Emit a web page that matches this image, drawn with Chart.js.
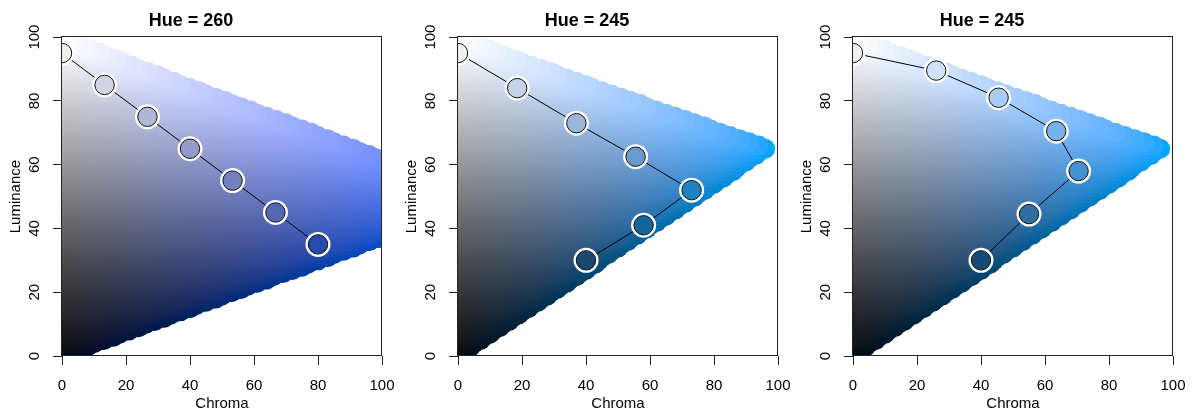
<!DOCTYPE html>
<html>
<head>
<meta charset="utf-8">
<script src="https://cdn.jsdelivr.net/npm/chart.js@4.4.0/dist/chart.umd.min.js"></script>
<style>
html, body { margin: 0; padding: 0; background: #fff; }
#wrap { position: relative; width: 1196px; height: 414px; overflow: hidden; }
canvas { position: absolute; top: 0; }
</style>
</head>
<body>
<div id="wrap">
  <canvas id="p1" width="398" height="414" style="left:0px"></canvas>
  <canvas id="p2" width="398" height="414" style="left:396px"></canvas>
  <canvas id="p3" width="398" height="414" style="left:791px"></canvas>
</div>
<script>
// panel titles and hues
var titles = ['Hue = 260', 'Hue = 245', 'Hue = 245'];
var hues = [260, 245, 245];

// palette points: chroma / luminance
var chroma1 = [0, 13.3, 26.7, 40, 53.3, 66.7, 80];
var lum1    = [95, 85, 75, 65, 55, 45, 35];
var chroma2 = [0, 18.5, 37, 55.5, 73, 58, 40];
var lum2    = [95, 84, 73, 62.5, 52, 41, 30];
var chroma3 = [0, 26, 45.5, 63.5, 70.5, 55, 40];
var lum3    = [95, 89.5, 81, 70.5, 58, 44.5, 30];

var tickValues = [0, 20, 40, 60, 80, 100];

var chromas = [chroma1, chroma2, chroma3];
var lums = [lum1, lum2, lum3];

var FONT = "'Liberation Sans', Arial, Helvetica, sans-serif";

// polarLUV (HCL) -> sRGB, null when outside the gamut
function hclToRgb(h, c, l) {
    if (l <= 0) return c === 0 ? [0, 0, 0] : null;
    var Xn = 95.047, Yn = 100, Zn = 108.883;
    var den = Xn + 15 * Yn + 3 * Zn;
    var un = 4 * Xn / den, vn = 9 * Yn / den;
    var hr = h * Math.PI / 180;
    var U = c * Math.cos(hr), V = c * Math.sin(hr);
    var Y = Yn * (l > 7.999592 ? Math.pow((l + 16) / 116, 3) : l / 903.3);
    var u = U / (13 * l) + un, v = V / (13 * l) + vn;
    var X = 9 * Y * u / (4 * v);
    var Z = -X / 3 - 5 * Y + 3 * Y / v;
    var r = (3.240479 * X - 1.537150 * Y - 0.498535 * Z) / Yn;
    var g = (-0.969256 * X + 1.875992 * Y + 0.041556 * Z) / Yn;
    var b = (0.055648 * X - 0.204043 * Y + 1.057311 * Z) / Yn;
    var out = [r, g, b].map(function(t) {
        return t > 0.00304 ? 1.055 * Math.pow(t, 1 / 2.4) - 0.055 : 12.92 * t;
    });
    for (var i = 0; i < 3; i++) {
        if (!(out[i] >= -1e-6 && out[i] <= 1 + 1e-6)) return null;
    }
    return out;
}

function rgbString(rgb) {
    return 'rgb(' + rgb.map(function(t) {
        return Math.round(Math.min(1, Math.max(0, t)) * 255);
    }).join(',') + ')';
}

// colour plane behind the points, drawn like R's grid of big dots
var planePlugin = {
    id: 'plane',
    beforeDatasetsDraw: function(chart) {
        var ctx = chart.ctx, a = chart.chartArea;
        var xs = chart.scales.x, ys = chart.scales.y;
        var hue = chart.options.plugins.plane.hue;
        ctx.save();
        ctx.beginPath();
        ctx.rect(a.left, a.top, a.right - a.left, a.bottom - a.top);
        ctx.clip();
        for (var L = 0; L <= 100; L++) {
            for (var C = 0; C <= 100; C++) {
                var rgb = hclToRgb(hue, C, L);
                if (!rgb) continue;
                ctx.fillStyle = rgbString(rgb);
                ctx.beginPath();
                ctx.arc(xs.getPixelForValue(C), ys.getPixelForValue(L), 10, 0, Math.PI * 2);
                ctx.fill();
            }
        }
        ctx.restore();
    },
    afterDatasetsDraw: function(chart) {
        var ctx = chart.ctx, a = chart.chartArea;
        ctx.save();
        ctx.strokeStyle = '#222';
        ctx.lineWidth = 1;
        var l = Math.round(a.left) - 0.5, t = Math.round(a.top) - 0.5;
        var r = Math.round(a.right) - 0.5, b = Math.round(a.bottom) - 0.5;
        ctx.strokeRect(l, t, r - l, b - t);
        ctx.restore();
    }
};

function makeChart(id, i) {
    var pts = chromas[i].map(function(c, k) { return {x: c, y: lums[i][k]}; });
    var fills = chromas[i].map(function(c, k) { return rgbString(hclToRgb(hues[i], c, lums[i][k]) || [0.5, 0.5, 0.5]); });

    return new Chart(document.getElementById(id).getContext('2d'), {
        type: 'scatter',
        data: {
            datasets: [{
                data: pts,
                showLine: true,
                borderColor: '#000',
                borderWidth: 1,
                pointRadius: 12.5,
                pointBackgroundColor: '#fff',
                pointBorderWidth: 0,
                order: 2,
                clip: 0
            }, {
                data: pts,
                showLine: false,
                pointRadius: 9.7,
                pointBackgroundColor: fills,
                pointBorderColor: '#111',
                pointBorderWidth: 1,
                order: 1,
                clip: 0
            }]
        },
        options: {
            responsive: false,
            animation: false,
            events: [],
            layout: { padding: { left: 0, right: 16, top: 0, bottom: 0 } },
            plugins: {
                legend: { display: false },
                tooltip: { enabled: false },
                plane: { hue: hues[i] },
                title: {
                    display: true,
                    text: titles[i],
                    color: '#000',
                    font: { family: FONT, size: 18, weight: 'bold' },
                    padding: { top: 10, bottom: 5.5 }
                }
            },
            scales: {
                x: {
                    type: 'linear',
                    min: 0, max: 100,
                    afterBuildTicks: function(s) { s.ticks = tickValues.map(function(v) { return {value: v}; }); },
                    afterFit: function(s) { s.height = 58; s.paddingLeft = 0; s.paddingRight = 0; },
                    border: { display: false },
                    grid: { drawOnChartArea: false, tickLength: 9, color: '#222' },
                    ticks: { color: '#000', font: { family: FONT, size: 15 }, padding: 12, maxRotation: 0 },
                    title: { display: true, text: 'Chroma', color: '#000', font: { family: FONT, size: 15 }, padding: { top: 0, bottom: 1 } }
                },
                y: {
                    type: 'linear',
                    min: 0, max: 100,
                    afterBuildTicks: function(s) { s.ticks = tickValues.map(function(v) { return {value: v}; }); },
                    afterFit: function(s) { s.width = 62; s.paddingTop = 0; s.paddingBottom = 0; },
                    border: { display: false },
                    grid: { drawOnChartArea: false, tickLength: 9, color: '#222' },
                    ticks: { color: '#000', font: { family: FONT, size: 15 }, padding: -2, minRotation: 90, maxRotation: 90, crossAlign: 'center', align: 'end' },
                    title: { display: true, text: 'Luminance', color: '#000', font: { family: FONT, size: 15 }, padding: { top: 6.5, bottom: 0 } }
                }
            }
        },
        plugins: [planePlugin]
    });
}

makeChart('p1', 0);
makeChart('p2', 1);
makeChart('p3', 2);
</script>
</body>
</html>
